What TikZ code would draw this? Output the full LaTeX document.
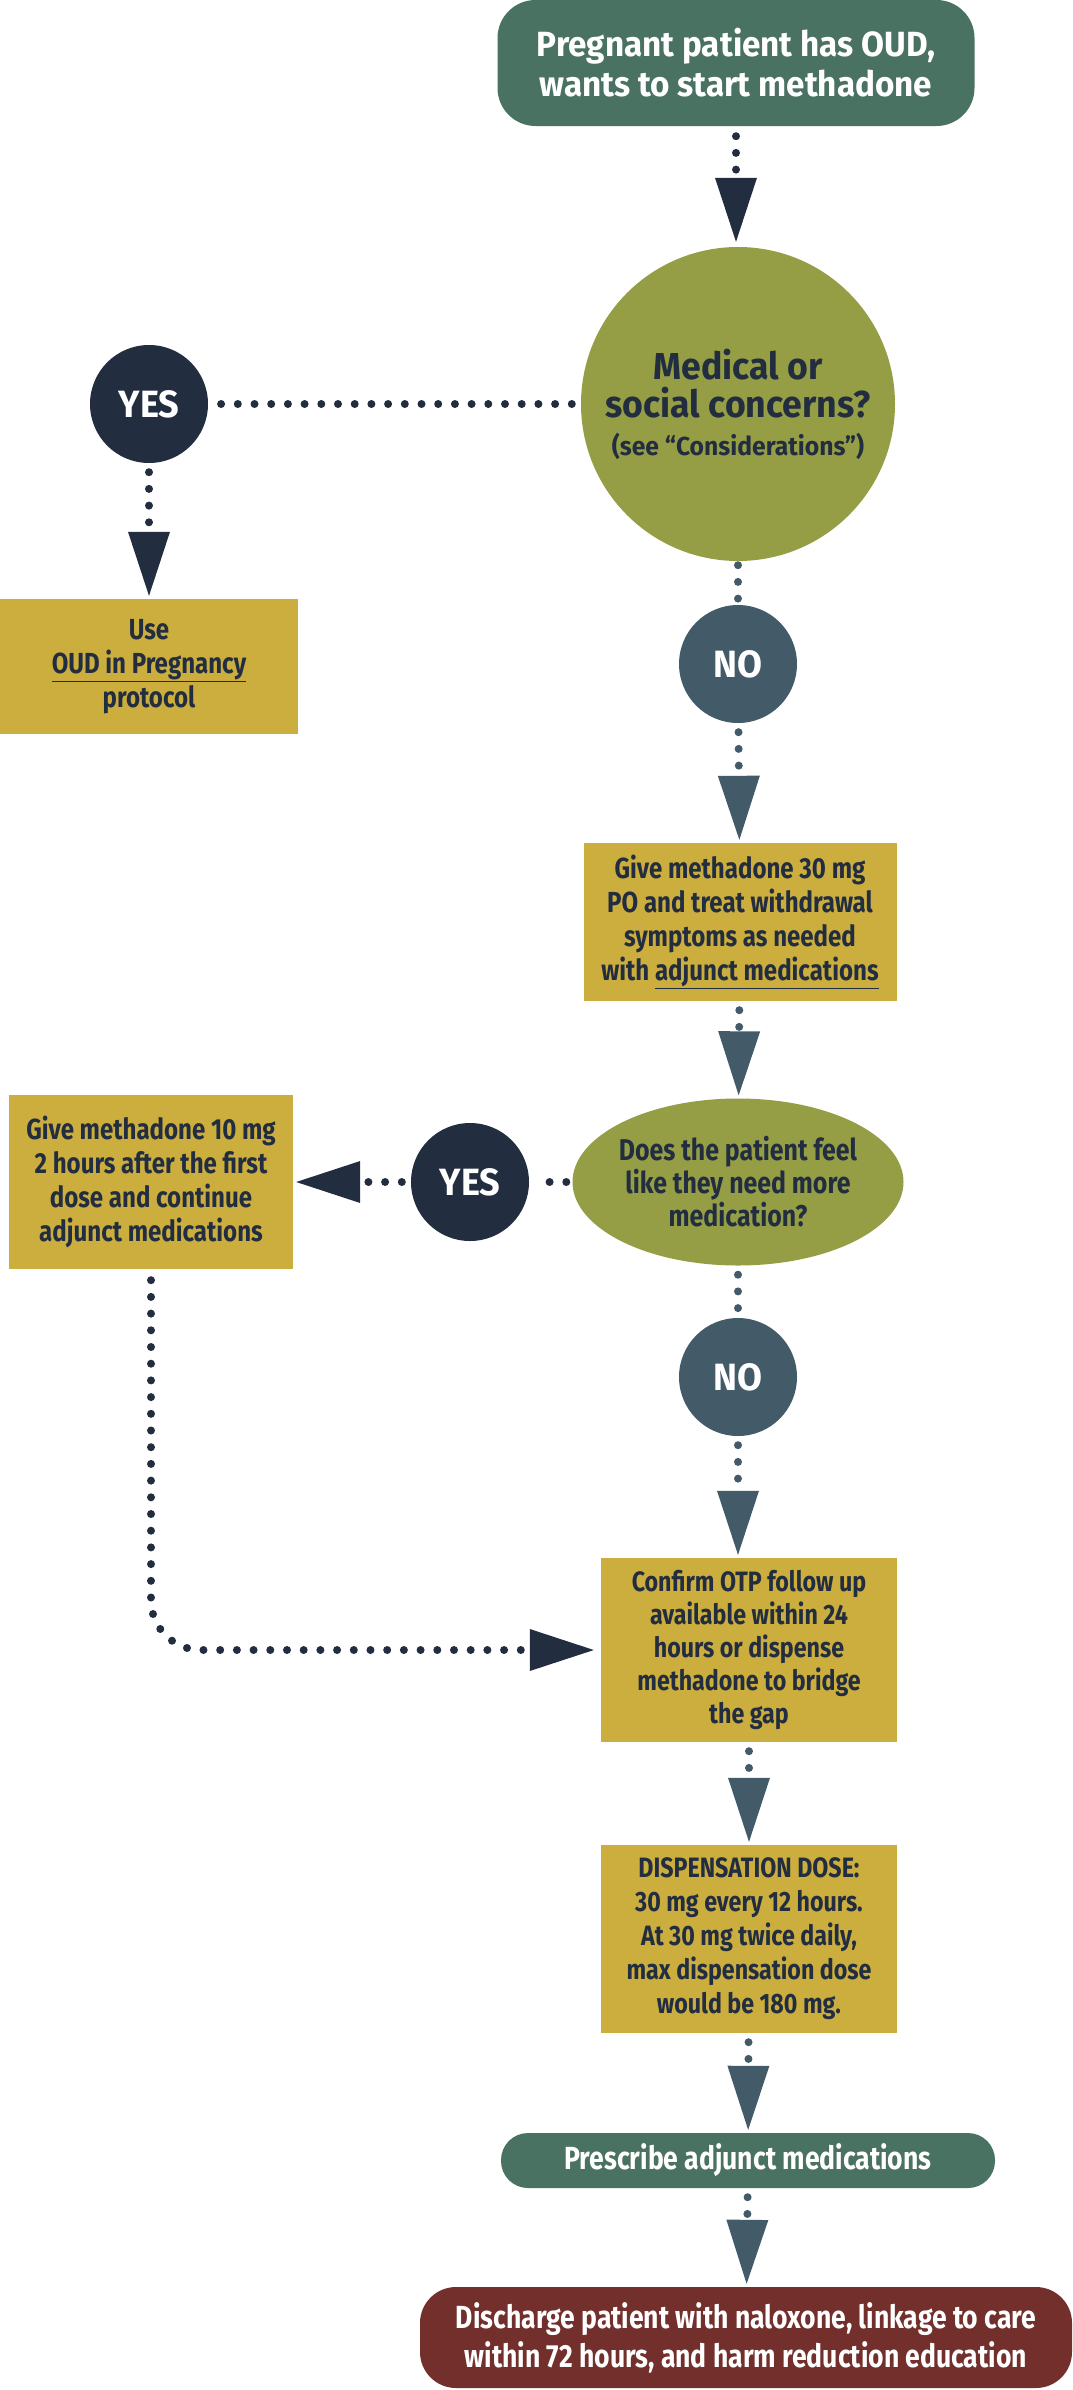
\documentclass[tikz,border=0pt]{standalone}
\usepackage{fontspec}
\setmainfont{Fira Sans}[FakeStretch=0.83]
\newfontfamily\flowwide{Fira Sans}[FakeStretch=0.95]
\usepackage{xcolor}
\usepackage{tikz}
\usetikzlibrary{arrows.meta,positioning,shapes.geometric}
\definecolor{flownavy}{HTML}{222D40}
\definecolor{flowslate}{HTML}{435B69}
\definecolor{flowolive}{HTML}{959E45}
\definecolor{flowgold}{HTML}{CBAE3E}
\definecolor{flowgreen}{HTML}{4A7262}
\definecolor{flowred}{HTML}{722F2B}
\newcommand{\flowfont}[2]{\fontsize{#1}{#2}\selectfont\bfseries}
\tikzset{
  termbox/.style={rounded corners=#1, text=white, align=center, inner sep=0pt},
  termbox/.default=38pt,
  goldbox/.style={fill=flowgold, text=flownavy, align=center, inner sep=0pt,
                  font=\flowfont{29}{34}},
  askcirc/.style={circle, fill=flowolive, text=flownavy, align=center,
                  inner sep=0pt, minimum size=#1},
  ansdot/.style={circle, fill=#1, text=white, inner sep=0pt, minimum size=118pt,
                 font=\flowwide\flowfont{38}{40}},
  dotline/.style={draw=#1, line width=8pt, line cap=round,
                  dash pattern=on 0pt off 16.7pt},
  dotline/.default=flownavy,
  flowtip/.tip={Triangle[length=64pt, width=42pt, line width=0pt]},
}

\begin{document}
\begin{tikzpicture}[x=1pt, y=-1pt]
  \useasboundingbox (0,0) rectangle (1072,2390);
  \node[termbox, fill=flowgreen, minimum width=477pt, minimum height=126pt,
        font=\flowwide\flowfont{35}{40}] (start) at (736,63)
        {Pregnant patient has OUD,\\wants to start methadone};
  \node[askcirc=314pt, font=\flowwide\flowfont{37.5}{38}] (concern) at (738,404)
        {Medical or\\social concerns?\\{\flowfont{26}{38}(see “Considerations”)}};
  \node[ansdot=flownavy] (yesA) at (149,404) {YES};
  \node[goldbox, minimum width=298pt, minimum height=135pt] (usebox) at (149,666.5)
        {Use\\\underline{OUD in Pregnancy}\\protocol};
  \node[ansdot=flowslate] (noA) at (738,664) {NO};
  \node[goldbox, minimum width=313pt, minimum height=158pt] (firstdose) at (740,922)
        {Give methadone 30 mg\\PO and treat withdrawal\\symptoms as needed\\with \underline{adjunct medications}};
  \node[ellipse, fill=flowolive, text=flownavy, align=center, inner sep=-15pt,
        minimum width=331pt, minimum height=167pt, font=\flowfont{30}{33}] (more) at (738,1182)
        {Does the patient feel\\like they need more\\medication?};
  \node[ansdot=flownavy] (yesB) at (470,1182) {YES};
  \node[goldbox, minimum width=284pt, minimum height=174pt] (extradose) at (151,1182)
        {Give methadone 10 mg\\2 hours after the first\\dose and continue\\adjunct medications};
  \node[ansdot=flowslate] (noB) at (738,1377) {NO};
  \node[goldbox, minimum width=296pt, minimum height=184pt, font=\flowfont{28}{33}] (bridge) at (749,1650)
        {Confirm OTP follow up\\available within 24\\hours or dispense\\methadone to bridge\\the gap};
  \node[goldbox, minimum width=296pt, minimum height=188pt, font=\flowfont{28}{34}] (dispense) at (749,1939)
        {DISPENSATION DOSE:\\30 mg every 12 hours.\\At 30 mg twice daily,\\max dispensation dose\\would be 180 mg.};
  \node[termbox=27pt, fill=flowgreen, minimum width=494pt, minimum height=55pt,
        font=\flowfont{32}{34}] (adjunct) at (748,2160.5) {Prescribe adjunct medications};
  \node[termbox=36pt, fill=flowred, minimum width=652pt, minimum height=101pt,
        font=\flowfont{32}{39}] (discharge) at (746,2337.5)
        {Discharge patient with naloxone, linkage to care\\within 72 hours, and harm reduction education};

  \foreach \a/\b/\c in {yesA/usebox/flownavy, noA/firstdose/flowslate,
                        firstdose/more/flowslate, yesB/extradose/flownavy,
                        bridge/dispense/flowslate, dispense/adjunct/flowslate,
                        adjunct/discharge/flowslate}
    \draw[dotline=\c, -flowtip, shorten <=9pt, shorten >=3pt] (\a) -- (\b);
  \draw[dotline, -flowtip, shorten <=10pt, shorten >=5pt] (start) -- (start |- concern.north);
  \draw[dotline=flowslate, -flowtip, shorten <=9pt, shorten >=3pt] (noB) -- (noB |- bridge.north);
  \draw[dotline, shorten <=9pt, shorten >=9pt] (concern) -- (yesA);
  \draw[dotline=flowslate, shorten <=4pt, shorten >=4pt] (concern) -- (noA);
  \draw[dotline, shorten <=6pt, shorten >=6pt] (more) -- (yesB);
  \draw[dotline=flowslate, shorten <=9pt, shorten >=9pt] (more) -- (noB);
  \draw[dotline, -flowtip, rounded corners=50pt, shorten <=11pt, shorten >=7pt]
        (extradose.south) |- (bridge.west);
\end{tikzpicture}
\end{document}
